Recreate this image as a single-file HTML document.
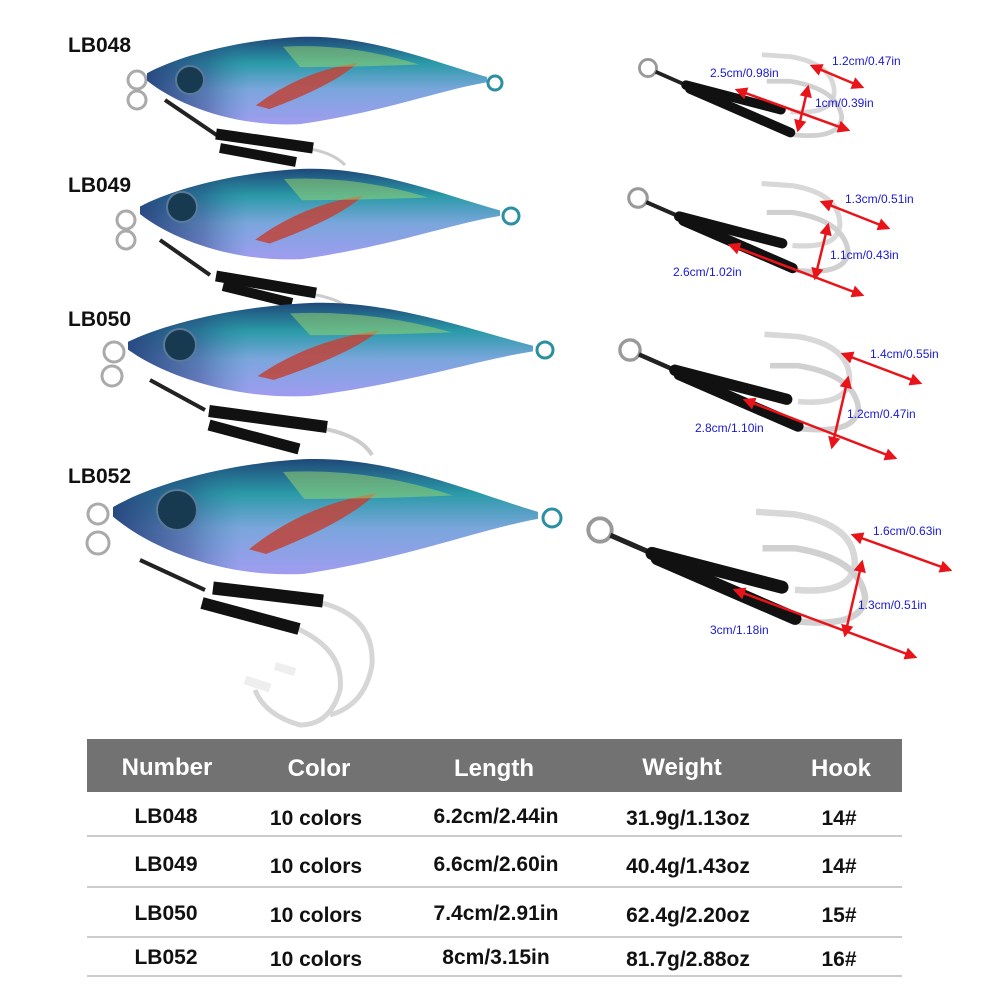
<!DOCTYPE html>
<html><head><meta charset="utf-8"><style>
body{margin:0;background:#fff;width:1000px;height:1000px;overflow:hidden;font-family:"Liberation Sans",sans-serif}
</style></head><body>
<svg width="1000" height="1000" viewBox="0 0 1000 1000" xmlns="http://www.w3.org/2000/svg">
<defs>
<linearGradient id="fg" x1="0" y1="0" x2="0" y2="1">
<stop offset="0" stop-color="#1f4878"/><stop offset="0.3" stop-color="#2a9aa8"/><stop offset="0.6" stop-color="#7aa6dc"/><stop offset="1" stop-color="#a09cf0"/>
</linearGradient>
<linearGradient id="hg" x1="0" y1="0" x2="1" y2="0">
<stop offset="0" stop-color="#24407a" stop-opacity="0.9"/><stop offset="0.3" stop-color="#24407a" stop-opacity="0.4"/><stop offset="0.5" stop-color="#2a7a9a" stop-opacity="0"/>
</linearGradient>
<marker id="ah" viewBox="0 0 10 10" refX="8" refY="5" markerWidth="5" markerHeight="5" orient="auto-start-reverse"><path d="M0 0L10 5L0 10z" fill="#e8141a"/></marker>
<g id="fish">
<path d="M0 42 C8 25 25 5 45 1 C65 -2 85 30 100 46 L100 52 C85 62 70 85 45 99 C25 103 8 75 0 50 Z" fill="url(#fg)"/>
<path d="M0 42 C8 25 25 5 45 1 L60 2 L55 98 L45 99 C25 103 8 75 0 50Z" fill="url(#hg)"/>
<path d="M32 78 Q45 40 62 30 Q55 55 36 82Z" fill="#c0443a" opacity="0.85"/>
<path d="M40 12 Q60 8 80 32 Q60 35 45 35Z" fill="#9fd86a" opacity="0.5"/>
</g>
<g id="hk">
<path d="M120 -14 L150 -12 Q196 -4 196 26 Q194 50 150 46" fill="none" stroke="#d8d8d8" stroke-width="5"/>
<path d="M125 14 L150 14 Q200 22 204 52 Q202 76 150 70" fill="none" stroke="#d0d0d0" stroke-width="5"/>
<circle cx="0" cy="0" r="9" fill="none" stroke="#999" stroke-width="3"/>
<path d="M8 4 L40 18" stroke="#222" stroke-width="4"/>
<path d="M40 18 L140 44" stroke="#111" stroke-width="10" stroke-linecap="round"/>
<path d="M44 22 L150 68" stroke="#111" stroke-width="10" stroke-linecap="round"/>
</g>
</defs>

<g font-weight="bold" font-size="21" fill="#111">
<text x="68" y="52">LB048</text><text x="68" y="192">LB049</text><text x="68" y="326">LB050</text><text x="68" y="483">LB052</text>
</g>

<!-- LB048 -->
<path d="M300 148 Q330 150 345 165" fill="none" stroke="#ccc" stroke-width="3"/>
<path d="M165 100 L218 136" stroke="#222" stroke-width="4"/>
<path d="M216 134 L313 148" stroke="#111" stroke-width="11"/>
<path d="M220 148 L296 162" stroke="#111" stroke-width="10"/>
<circle cx="137" cy="80" r="9" fill="none" stroke="#aaa" stroke-width="3"/>
<circle cx="137" cy="100" r="9" fill="none" stroke="#aaa" stroke-width="3"/>
<use href="#fish" transform="translate(147,36) scale(3.4,0.89)"/>
<circle cx="495" cy="83" r="7" fill="none" stroke="#2a8fa0" stroke-width="3"/>
<circle cx="190" cy="80" r="14" fill="#173a50" stroke="#5a7a9a" stroke-width="2"/>

<!-- LB049 -->
<path d="M305 293 Q340 298 350 310" fill="none" stroke="#ccc" stroke-width="3"/>
<path d="M160 240 L210 275" stroke="#222" stroke-width="4"/>
<path d="M216 276 L316 293" stroke="#111" stroke-width="11"/>
<path d="M223 286 L292 303" stroke="#111" stroke-width="10"/>
<circle cx="126" cy="220" r="9" fill="none" stroke="#aaa" stroke-width="3"/>
<circle cx="126" cy="240" r="9" fill="none" stroke="#aaa" stroke-width="3"/>
<use href="#fish" transform="translate(140,168) scale(3.6,0.92)"/>
<circle cx="511" cy="216" r="8" fill="none" stroke="#2a8fa0" stroke-width="3"/>
<circle cx="182" cy="207" r="15" fill="#173a50" stroke="#5a7a9a" stroke-width="2"/>

<!-- LB050 -->
<path d="M320 428 Q360 435 372 455" fill="none" stroke="#ccc" stroke-width="4"/>
<path d="M150 380 L205 410" stroke="#222" stroke-width="4"/>
<path d="M209 411 L327 427" stroke="#111" stroke-width="12"/>
<path d="M209 425 L299 449" stroke="#111" stroke-width="11"/>
<circle cx="114" cy="352" r="10" fill="none" stroke="#aaa" stroke-width="3"/>
<circle cx="112" cy="376" r="10" fill="none" stroke="#aaa" stroke-width="3"/>
<use href="#fish" transform="translate(128,302) scale(4.05,0.95)"/>
<circle cx="545" cy="350" r="8" fill="none" stroke="#2a8fa0" stroke-width="3"/>
<circle cx="180" cy="345" r="16" fill="#173a50" stroke="#5a7a9a" stroke-width="2"/>

<!-- LB052 -->
<path d="M318 602 Q375 615 372 665 Q365 705 330 715" fill="none" stroke="#d6d6d6" stroke-width="5"/>
<path d="M296 628 Q345 650 340 690 Q330 725 300 725 Q265 715 255 690" fill="none" stroke="#d6d6d6" stroke-width="5"/>
<path d="M245 680 L270 688" stroke="#eee" stroke-width="9"/>
<path d="M275 666 L295 672" stroke="#eee" stroke-width="8"/>
<path d="M140 560 L205 590" stroke="#222" stroke-width="4"/>
<path d="M213 588 L323 601" stroke="#111" stroke-width="13"/>
<path d="M202 603 L299 629" stroke="#111" stroke-width="12"/>
<circle cx="98" cy="514" r="10" fill="none" stroke="#aaa" stroke-width="3"/>
<circle cx="98" cy="543" r="11" fill="none" stroke="#aaa" stroke-width="3"/>
<use href="#fish" transform="translate(113,458) scale(4.25,1.17)"/>
<circle cx="552" cy="518" r="9" fill="none" stroke="#2a8fa0" stroke-width="3"/>
<circle cx="177" cy="510" r="20" fill="#173a50" stroke="#5a7a9a" stroke-width="2"/>

<!-- hooks -->
<use href="#hk" transform="translate(648,68) scale(0.95)"/>
<use href="#hk" transform="translate(638,198) scale(1.03)"/>
<use href="#hk" transform="translate(630,350) scale(1.12)"/>
<use href="#hk" transform="translate(600,530) scale(1.3)"/>

<g stroke="#e8141a" stroke-width="2.5" marker-start="url(#ah)" marker-end="url(#ah)">
<line x1="737" y1="90" x2="848" y2="130"/><line x1="812" y1="66" x2="862" y2="87"/><line x1="808" y1="87" x2="798" y2="130"/>
<line x1="730" y1="245" x2="862" y2="295"/><line x1="822" y1="202" x2="888" y2="228"/><line x1="828" y1="225" x2="815" y2="278"/>
<line x1="745" y1="400" x2="895" y2="458"/><line x1="843" y1="354" x2="920" y2="383"/><line x1="848" y1="378" x2="832" y2="447"/>
<line x1="735" y1="590" x2="915" y2="657"/><line x1="853" y1="535" x2="950" y2="570"/><line x1="862" y1="562" x2="845" y2="635"/>
</g>
<g fill="#1a1ad0" font-size="12">
<text x="710" y="77">2.5cm/0.98in</text><text x="832" y="65">1.2cm/0.47in</text><text x="815" y="107">1cm/0.39in</text>
<text x="845" y="203">1.3cm/0.51in</text><text x="830" y="259">1.1cm/0.43in</text><text x="673" y="276">2.6cm/1.02in</text>
<text x="870" y="358">1.4cm/0.55in</text><text x="847" y="418">1.2cm/0.47in</text><text x="695" y="432">2.8cm/1.10in</text>
<text x="873" y="535">1.6cm/0.63in</text><text x="858" y="609">1.3cm/0.51in</text><text x="710" y="634">3cm/1.18in</text>
</g>

<!-- table -->
<rect x="87" y="739" width="815" height="53" fill="#727272"/>
<g fill="#fff" font-weight="bold" font-size="24" text-anchor="middle">
<text x="167" y="775">Number</text><text x="319" y="776">Color</text><text x="494" y="776">Length</text><text x="682" y="775">Weight</text><text x="841" y="776">Hook</text>
</g>
<g stroke="#ccc" stroke-width="2">
<line x1="87" y1="836" x2="902" y2="836"/><line x1="87" y1="887" x2="902" y2="887"/><line x1="87" y1="937" x2="902" y2="937"/><line x1="87" y1="976" x2="902" y2="976"/>
</g>
<g fill="#111" font-size="21" text-anchor="middle" font-weight="bold">
<text x="166" y="823">LB048</text><text x="316" y="825">10 colors</text><text x="496" y="823">6.2cm/2.44in</text><text x="688" y="825">31.9g/1.13oz</text><text x="839" y="825">14#</text>
<text x="166" y="871">LB049</text><text x="316" y="873">10 colors</text><text x="496" y="871">6.6cm/2.60in</text><text x="688" y="873">40.4g/1.43oz</text><text x="839" y="873">14#</text>
<text x="166" y="920">LB050</text><text x="316" y="922">10 colors</text><text x="496" y="920">7.4cm/2.91in</text><text x="688" y="922">62.4g/2.20oz</text><text x="839" y="922">15#</text>
<text x="166" y="964">LB052</text><text x="316" y="966">10 colors</text><text x="496" y="964">8cm/3.15in</text><text x="688" y="966">81.7g/2.88oz</text><text x="839" y="966">16#</text>
</g>
</svg>
</body></html>
